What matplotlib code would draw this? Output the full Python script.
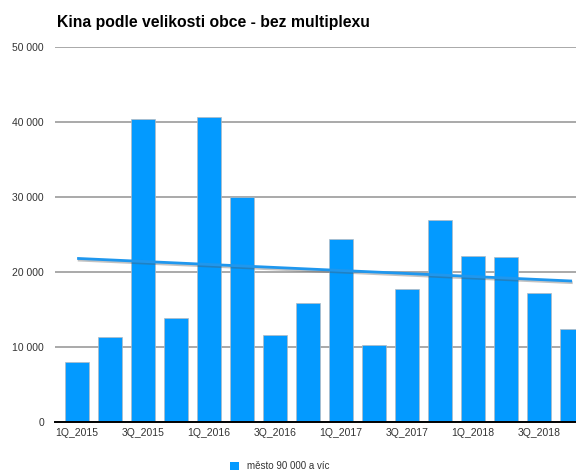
import matplotlib
matplotlib.use("Agg")
import matplotlib.pyplot as plt
import matplotlib.patheffects as pe
from matplotlib.patches import Patch
import numpy as np

plt.rcParams['font.family'] = ['Liberation Sans', 'DejaVu Sans']

categories = ['1Q_2015', '2Q_2015', '3Q_2015', '4Q_2015',
              '1Q_2016', '2Q_2016', '3Q_2016', '4Q_2016',
              '1Q_2017', '2Q_2017', '3Q_2017', '4Q_2017',
              '1Q_2018', '2Q_2018', '3Q_2018', '4Q_2018']
values = [8000, 11300, 40400, 13850, 40650, 30000, 11600, 15850,
          24450, 10250, 17750, 26950, 22150, 21950, 17250, 12450]
series_name = 'město 90 000 a víc'
yticks = [0, 10000, 20000, 30000, 40000, 50000]

fig = plt.figure(figsize=(5.76, 4.73), dpi=100)
ax = fig.add_axes([55/576, 1 - 422/473, 1 - 55/576, (422 - 47)/473])

x = np.arange(len(categories))
bar_color = '#039AFF'
ax.bar(x, values, width=0.73, color=bar_color, edgecolor='#B4BAC0',
       linewidth=0.5, zorder=3)

# linear trend line
coef = np.polyfit(x, values, 1)
trend = np.polyval(coef, x[[0, -1]])
ax.plot(x[[0, -1]], trend, color='#1F97EE', linewidth=2.0, zorder=5,
        solid_capstyle='butt',
        path_effects=[pe.SimpleLineShadow(offset=(0.5, -1.2), shadow_color='#555555', alpha=0.35),
                      pe.Normal()])

ax.set_ylim(0, 50000)
ax.set_xlim(-0.67, 15.12)
ax.set_yticks(yticks)
ax.set_yticklabels([f'{v:,}'.replace(',', ' ') for v in yticks])
ax.set_xticks(x[::2])
ax.set_xticklabels(categories[::2])
ax.tick_params(axis='both', length=0, labelsize=7.5, colors='#333333')
ax.tick_params(axis='y', pad=8)
ax.tick_params(axis='x', pad=4)

ax.grid(axis='y', color='#A3A3A3', linewidth=1.3, zorder=0)
ax.set_axisbelow(True)
for s in ['top', 'right', 'left']:
    ax.spines[s].set_visible(False)
ax.spines['bottom'].set_color('black')
ax.spines['bottom'].set_linewidth(1.4)
ax.spines['bottom'].set_zorder(6)

fig.text(57/576, 1 - 22/473, 'Kina podle velikosti obce - bez multiplexu',
         fontsize=11.3, fontweight='bold', ha='left', va='center', color='black')

leg = fig.legend(handles=[Patch(facecolor=bar_color, edgecolor='none', label=series_name)],
                 loc='center', bbox_to_anchor=(0.486, 1 - 466/473), frameon=False,
                 fontsize=7, handlelength=0.9, handleheight=0.9, handletextpad=0.8)
for t in leg.get_texts():
    t.set_color('#333333')

fig.savefig('out.png', dpi=100)
